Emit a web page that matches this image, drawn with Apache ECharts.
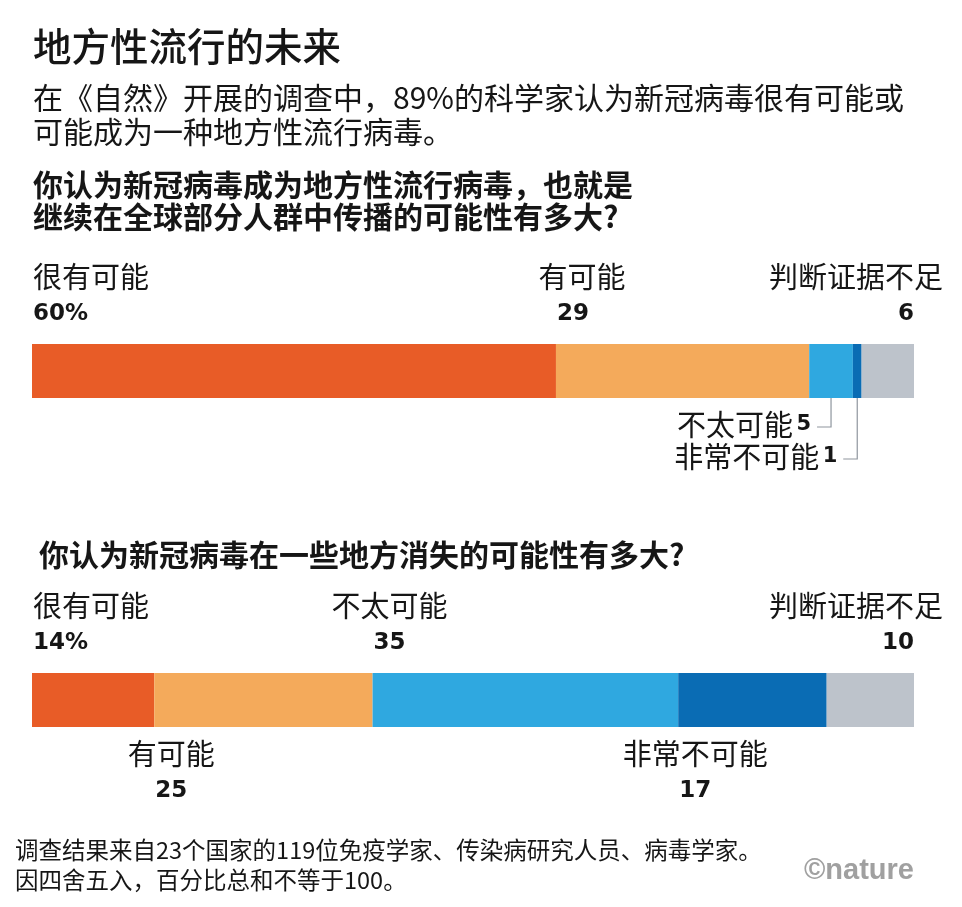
<!DOCTYPE html>
<html><head><meta charset="utf-8">
<script src="https://cdn.jsdelivr.net/npm/echarts@6/dist/echarts.min.js"></script>
<style>html,body{margin:0;padding:0;background:#fff}#c{width:962px;height:907px}</style>
</head><body><div id="c"></div>
<script>
// ---------- data ----------
const categories = ['很有可能', '有可能', '不太可能', '非常不可能', '判断证据不足'];
const endemicValues = [60, 29, 5, 1, 6];
const vanishValues = [14, 25, 35, 17, 10];
const axisMax = 101; // rounded percentages add up to 101
const titleText = '地方性流行的未来';
const subtitleLines = ['在《自然》开展的调查中，89%的科学家认为新冠病毒很有可能或', '可能成为一种地方性流行病毒。'];
const question1Lines = ['你认为新冠病毒成为地方性流行病毒，也就是', '继续在全球部分人群中传播的可能性有多大?'];
const question2Lines = ['你认为新冠病毒在一些地方消失的可能性有多大?'];
const footnoteLines = ['调查结果来自23个国家的119位免疫学家、传染病研究人员、病毒学家。', '因四舍五入，百分比总和不等于100。'];
const logoText = '©nature';

// ---------- styles ----------
const palette = ['#E85C27', '#F4AA5B', '#2FA8E0', '#0A6CB4', '#BDC3CB'];
const CJK = '"Noto Sans CJK SC", "Noto Sans", sans-serif';
const NUM = '"DejaVu Sans", "Liberation Sans", sans-serif';
const INK = '#161616';
const BAR_H = 54;
const grids = [
  { left: 32, width: 882, top: 344, height: BAR_H },
  { left: 32, width: 882, top: 673, height: BAR_H }
];
const seriesValues = [endemicValues, vanishValues];
// label placement per segment
const labelSpecs = [
  [{ side: 'top', mode: 'left' }, { side: 'top', mode: 'start', nameDx: 9 }, { side: 'leader', row: 0 }, { side: 'leader', row: 1 }, { side: 'top', mode: 'right' }],
  [{ side: 'top', mode: 'left' }, { side: 'bottom', mode: 'start' }, { side: 'top', mode: 'start' }, { side: 'bottom', mode: 'start' }, { side: 'top', mode: 'right' }]
];

const chart = echarts.init(document.getElementById('c'), null, { renderer: 'canvas' });

const series = [];
seriesValues.forEach((vals, g) => {
  vals.forEach((v, i) => {
    series.push({
      type: 'bar', name: categories[i], xAxisIndex: g, yAxisIndex: g, stack: 'q' + g,
      data: [v], barWidth: BAR_H, silent: true,
      itemStyle: { color: palette[i] }
    });
  });
});

chart.setOption({
  animation: false,
  backgroundColor: '#ffffff',
  grid: grids,
  xAxis: grids.map((_, g) => ({ gridIndex: g, type: 'value', min: 0, max: axisMax, show: false })),
  yAxis: grids.map((_, g) => ({ gridIndex: g, type: 'category', data: ['q' + g], show: false })),
  series: series
});

// ---------- text & labels ----------
const ctx = document.createElement('canvas').getContext('2d');
function measure(text, font) { ctx.font = font; return ctx.measureText(text).width; }
const NAME_FONT = { fontSize: 29, fontFamily: CJK, fontWeight: 'normal' };
const VAL_SIZE = 23;
const VAL_FONT = { fontSize: VAL_SIZE, fontFamily: NUM, fontWeight: 'bold' };

function txt(x, y, text, font, align, extra) {
  return Object.assign({
    type: 'text', silent: true,
    style: Object.assign({
      x: x, y: y, text: text, fill: INK,
      align: align || 'left', verticalAlign: 'middle',
      textAlign: align || 'left', textVerticalAlign: 'middle'
    }, font)
  }, extra || {});
}

const g = [];
// headings
g.push(txt(33, 46, titleText, { fontSize: 38.5, fontFamily: CJK, fontWeight: 500 }));
g.push(txt(33, 98, subtitleLines[0], { fontSize: 30, fontFamily: CJK }));
g.push(txt(33, 132, subtitleLines[1], { fontSize: 30, fontFamily: CJK }));
g.push(txt(33, 185, question1Lines[0], { fontSize: 30, fontFamily: CJK, fontWeight: 'bold' }));
g.push(txt(33, 217, question1Lines[1], { fontSize: 30, fontFamily: CJK, fontWeight: 'bold' }));
g.push(txt(39, 555, question2Lines[0], { fontSize: 30, fontFamily: CJK, fontWeight: 'bold' }));
g.push(txt(15, 850, footnoteLines[0], { fontSize: 23.5, fontFamily: CJK }));
g.push(txt(15, 880, footnoteLines[1], { fontSize: 23.5, fontFamily: CJK }));
g.push(txt(914, 871, logoText, { fontSize: 29, fontFamily: '"Liberation Sans Narrow", "Liberation Sans", sans-serif', fontWeight: 'bold', fill: '#a0a0a0' }, 'right'));

seriesValues.forEach((vals, gi) => {
  const yc = chart.convertToPixel({ yAxisIndex: gi }, 'q' + gi);
  const top = yc - BAR_H / 2, bottom = yc + BAR_H / 2;
  let cum = 0;
  vals.forEach((v, i) => {
    const x0 = chart.convertToPixel({ xAxisIndex: gi }, cum);
    const x1 = chart.convertToPixel({ xAxisIndex: gi }, cum + v);
    cum += v;
    const spec = labelSpecs[gi][i];
    const valStr = String(v) + (i === 0 ? '%' : '');
    const name = categories[i];
    if (spec.side === 'leader') {
      const xc = (x0 + x1) / 2;
      const ly = bottom + (spec.row === 0 ? 29 : 61);
      g.push({ type: 'polyline', silent: true, shape: { points: [[xc, bottom], [xc, ly], [xc - 14, ly]] },
        style: { stroke: '#8f969e', lineWidth: 1.2, fill: null } });
      g.push({ type: 'text', silent: true, style: {
        x: xc - 20, y: ly - 2, text: '{n|' + name + '} {v|' + valStr + '}',
        align: 'right', verticalAlign: 'middle', textAlign: 'right', textVerticalAlign: 'middle',
        rich: {
          n: { fontSize: 29, fontFamily: CJK, fill: INK, color: INK },
          v: { fontSize: 21, fontFamily: NUM, fontWeight: 'bold', fill: INK, color: INK }
        }
      } });
      return;
    }
    const nameY = spec.side === 'top' ? top - 67 : bottom + 27;
    const valY = spec.side === 'top' ? top - 30 : bottom + 64;
    if (spec.mode === 'left') {
      g.push(txt(x0 + 1, nameY, name, NAME_FONT, 'left'));
      g.push(txt(x0 + 1, valY, valStr, VAL_FONT, 'left'));
    } else if (spec.mode === 'right') {
      g.push(txt(x1 + 29, nameY, name, NAME_FONT, 'right'));
      g.push(txt(x1, valY, valStr, VAL_FONT, 'right'));
    } else {
      const vw = measure(valStr, 'bold ' + VAL_SIZE + 'px ' + NUM);
      const vc = x0 + 1 + vw / 2;
      g.push(txt(x0 + 1, valY, valStr, VAL_FONT, 'left'));
      g.push(txt(vc + (spec.nameDx || 0), nameY, name, NAME_FONT, 'center'));
    }
  });
});

chart.setOption({ graphic: { elements: g } });
</script>
</body></html>
